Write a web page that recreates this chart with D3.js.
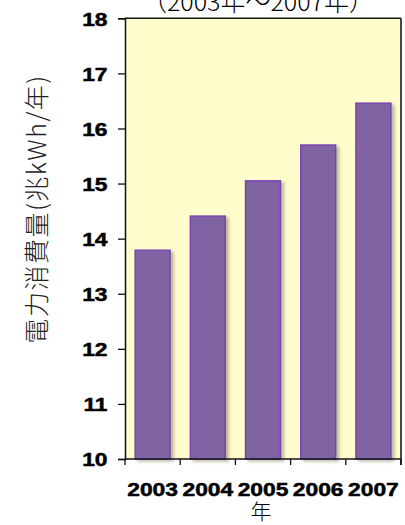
<!DOCTYPE html>
<html>
<head>
<meta charset="utf-8">
<script src="https://cdn.jsdelivr.net/npm/d3@7"></script>
<style>
  html, body { margin: 0; padding: 0; background: #ffffff; }
  svg { display: block; }
</style>
</head>
<body>
<svg id="chart" width="405" height="525"></svg>
<script>
// Annual electricity consumption, 2003–2007 (trillion kWh per year)
const years = ["2003", "2004", "2005", "2006", "2007"];
const consumption = [13.79, 14.41, 15.05, 15.70, 16.46];
const yTicks = [10, 11, 12, 13, 14, 15, 16, 17, 18];
const titleText = "（2003年～2007年）";
const yTitle = "電力消費量(兆kWh/年)";
const xTitle = "年";

const svg = d3.select("#chart");
const margin = { left: 125, top: 18.3, right: 4, bottom: 66 };
const W = 405, H = 525;
const plotW = W - margin.left - margin.right;
const plotH = H - margin.top - margin.bottom;

// wide, heavy numerals for the axis labels
const numFont = "Liberation Sans, Arial, sans-serif";
const numSize = 19;
const numStretch = 1.2;

const defs = svg.append("defs");
const shadow = defs.append("filter").attr("id", "barShadow")
  .attr("x", "-20%").attr("y", "-10%").attr("width", "150%").attr("height", "130%");
shadow.append("feDropShadow")
  .attr("dx", 3).attr("dy", 2).attr("stdDeviation", 1.4)
  .attr("flood-color", "#6f6f50").attr("flood-opacity", 0.45);

const x = d3.scaleBand().domain(years).range([0, plotW])
  .paddingInner(0.366).paddingOuter(0.183);
const y = d3.scaleLinear().domain([10, 18]).range([plotH, 0]);

const g = svg.append("g").attr("transform", `translate(${margin.left},${margin.top})`);

// plot background
g.append("rect").attr("x", 0).attr("y", 0).attr("width", plotW).attr("height", plotH)
  .attr("fill", "#fffdcc");

// bars
g.selectAll("rect.bar").data(years).join("rect")
  .attr("class", "bar")
  .attr("x", d => x(d))
  .attr("width", x.bandwidth())
  .attr("y", (d, i) => y(consumption[i]))
  .attr("height", (d, i) => y(10) - y(consumption[i]))
  .attr("fill", "#8064a2")
  .attr("stroke", "#7a3fb4")
  .attr("stroke-width", 1.4)
  .attr("filter", "url(#barShadow)");

// frame: top and right edges
g.append("line").attr("x1", 0).attr("x2", plotW).attr("y1", 0).attr("y2", 0)
  .attr("stroke", "#111").attr("stroke-width", 1.5);
g.append("line").attr("x1", plotW).attr("x2", plotW).attr("y1", 0).attr("y2", plotH + 6)
  .attr("stroke", "#333").attr("stroke-width", 1.8);

// y axis
const yAxis = g.append("g").call(
  d3.axisLeft(y).tickValues(yTicks).tickFormat(d3.format("d")).tickSize(7).tickPadding(10)
);
yAxis.select(".domain").attr("stroke", "#111").attr("stroke-width", 1.5);
yAxis.selectAll(".tick line").attr("stroke", "#111").attr("stroke-width", 1.3);
yAxis.selectAll(".tick text")
  .attr("font-family", numFont)
  .attr("font-weight", "bold")
  .attr("font-size", numSize)
  .attr("fill", "#000")
  .attr("stroke", "#000").attr("stroke-width", 0.5)
  .attr("x", -17.5 / numStretch)
  .attr("dy", "0.36em")
  .attr("transform", `scale(${numStretch},1)`);

// x axis: labels under bars, tick marks at category boundaries
const xAxis = g.append("g").attr("transform", `translate(0,${plotH})`)
  .call(d3.axisBottom(x).tickSize(0).tickPadding(0));
xAxis.select(".domain").remove();
g.append("line").attr("x1", 0).attr("x2", plotW).attr("y1", plotH).attr("y2", plotH)
  .attr("stroke", "#111").attr("stroke-width", 1.5);
const bounds = years.map(d => x(d) - x.step() * x.paddingInner() / 2);
bounds[0] = 0;
bounds.push(plotW);
g.selectAll("line.xtick").data(bounds).join("line")
  .attr("class", "xtick")
  .attr("x1", d => d).attr("x2", d => d)
  .attr("y1", plotH).attr("y2", plotH + 6)
  .attr("stroke", "#111").attr("stroke-width", 1.3);
xAxis.selectAll(".tick text")
  .attr("font-family", numFont)
  .attr("font-weight", "bold")
  .attr("font-size", numSize)
  .attr("fill", "#000")
  .attr("stroke", "#000").attr("stroke-width", 0.5)
  .attr("transform", `scale(${numStretch},1)`)
  .attr("y", 37)
  .attr("dy", 0);

// titles
svg.append("text")
  .attr("x", 258).attr("y", 11)
  .attr("text-anchor", "middle")
  .attr("font-family", "Noto Sans CJK JP, sans-serif")
  .attr("font-weight", 300)
  .attr("font-size", 25)
  .attr("fill", "#000")
  .text(titleText);

svg.append("text")
  .attr("transform", "translate(35,209) rotate(-90)")
  .attr("text-anchor", "middle")
  .attr("dominant-baseline", "central")
  .attr("font-family", "Noto Sans CJK JP, sans-serif")
  .attr("font-weight", 300)
  .attr("font-size", 25)
  .attr("letter-spacing", 1.5)
  .attr("fill", "#222")
  .text(yTitle);

svg.append("text")
  .attr("x", 261).attr("y", 510)
  .attr("text-anchor", "middle")
  .attr("dominant-baseline", "central")
  .attr("font-family", "Noto Sans CJK JP, sans-serif")
  .attr("font-weight", 300)
  .attr("font-size", 21)
  .attr("fill", "#000")
  .text(xTitle);
</script>
</body>
</html>
